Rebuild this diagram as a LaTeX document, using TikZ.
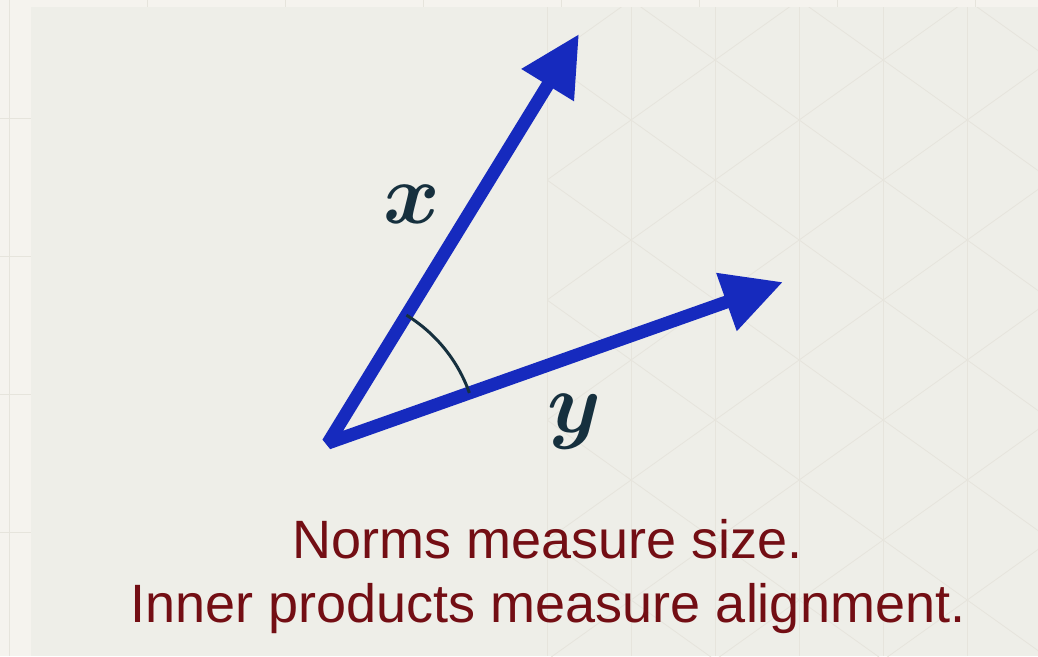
\RequirePackage{fix-cm}
\documentclass[tikz,border=0pt]{standalone}
\usepackage{fontspec}
\usepackage{xcolor}
\usepackage{tikz}
\usetikzlibrary{arrows.meta,calc}
\newfontfamily\captionfont{Liberation Sans}
\definecolor{vectorblue}{RGB}{22, 42, 190}
\definecolor{labelnavy}{RGB}{22, 48, 62}
\definecolor{captionred}{RGB}{115, 14, 20}
\definecolor{framecream}{RGB}{245, 243, 238}
\definecolor{panelcream}{RGB}{238, 238, 232}
\definecolor{gridline}{RGB}{230, 228, 220}

\begin{document}
\begin{tikzpicture}[x=1pt, y=-1pt,
    vecarrow/.style={line width=13pt, vectorblue, line join=bevel,
        {Triangle[length=60pt, width=58pt]}-{Triangle[length=60pt, width=58pt]}},
    veclabel/.style={text=labelnavy, inner sep=0pt, anchor=base, font=\fontsize{86}{86}\selectfont\boldmath},
    captionline/.style={text=captionred, inner sep=0pt, anchor=base, font=\captionfont\fontsize{54}{64}\selectfont}]
    % background: frame, panel and faint lattice
    \useasboundingbox (0,0) rectangle (1038,656);
    \fill[framecream] (0,0) rectangle (1038,656);
    \foreach \gx in {9,147,...,1038} \draw[gridline, line width=1pt] (\gx,0) -- (\gx,656);
    \foreach \gy in {118,256,...,656} \draw[gridline, line width=1pt] (0,\gy) -- (1038,\gy);
    \fill[panelcream] (31,7) rectangle (1038,656);
    \begin{scope}
        \clip (547,7) rectangle (1038,656);
        \foreach \gx in {547,631,...,1040} \draw[gridline, line width=0.8pt] (\gx,7) -- (\gx,656);
        \foreach \c in {-480,-360,...,660} \draw[gridline, line width=0.8pt] (463,\c) -- ++(600,428.4);
        \foreach \c in {0,120,...,1140} \draw[gridline, line width=0.8pt] (463,\c) -- ++(600,-428.4);
    \end{scope}

    % the two vectors
    \coordinate (O) at (328,443);
    \coordinate (xtip) at (579,34);
    \coordinate (ytip) at (783,282);
    \draw[vecarrow] (xtip) -- (O) -- (ytip);
    \draw[labelnavy, line width=3pt] ($(O)+(-19.5:150)$) arc[start angle=-19.5, end angle=-58.5, radius=150];

    \node[veclabel] (xlabel) at (412,223) {$x$};
    \node[veclabel] (ylabel) at (574,432) {$y$};

    \node[captionline] (norms) at (548,558) {Norms measure size.};
    \node[captionline] (inner) at (548,622) {Inner products measure alignment.};
\end{tikzpicture}
\end{document}
